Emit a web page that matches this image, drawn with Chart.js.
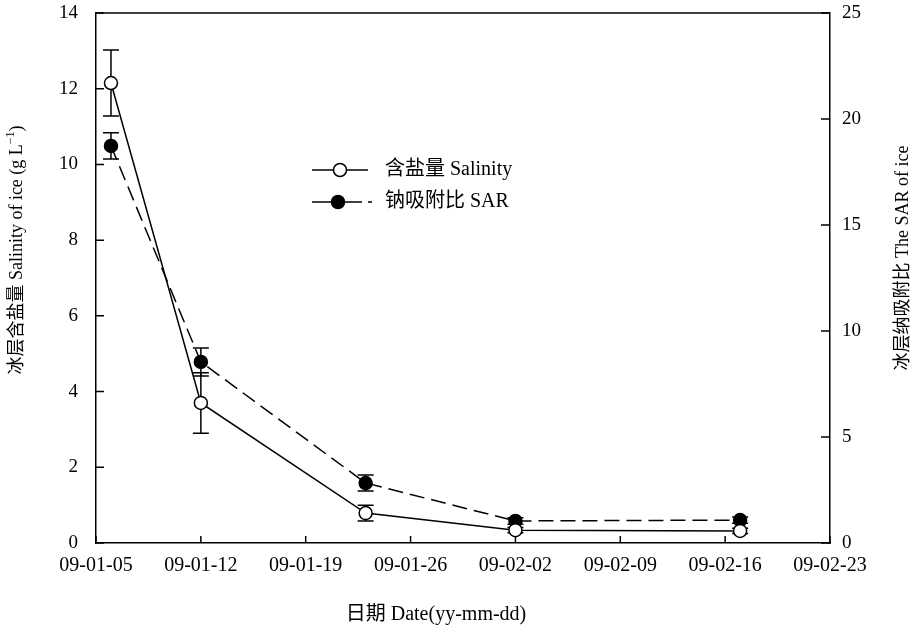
<!DOCTYPE html>
<html>
<head>
<meta charset="utf-8">
<script src="https://cdn.jsdelivr.net/npm/chart.js@4/dist/chart.umd.min.js"></script>
<style>
  html, body { margin: 0; padding: 0; background: #fff; }
  #wrap { width: 919px; height: 635px; }
</style>
</head>
<body>
<div id="wrap"><canvas id="c" width="919" height="635"></canvas></div>
<script>
// Sampling dates and measured values (mean ± SD)
const sampleDates = ['2009-01-06', '2009-01-12', '2009-01-23', '2009-02-02', '2009-02-17'];
const salinity    = [12.15, 3.70, 0.79, 0.34, 0.32];
const salinityErr = [0.87, 0.80, 0.21, 0.07, 0.07];
const sar         = [18.73, 8.54, 2.83, 1.04, 1.08];
const sarErr      = [0.62, 0.66, 0.38, 0.15, 0.15];

// Axis ticks
const dateTicks     = ['09-01-05', '09-01-12', '09-01-19', '09-01-26', '09-02-02', '09-02-09', '09-02-16', '09-02-23'];
const salinityTicks = [0, 2, 4, 6, 8, 10, 12, 14];
const sarTicks      = [0, 5, 10, 15, 20, 25];

const SERIF = "'Liberation Serif', 'Times New Roman', 'Noto Sans CJK SC', serif";
const DAY = 86400000;
const origin = Date.UTC(2009, 0, 5);
function dayOffset(s) {
  const p = s.split('-').map(Number);
  return (Date.UTC(p[0], p[1] - 1, p[2]) - origin) / DAY;
}
function tickDay(label) { return dayOffset('20' + label); }

const salinityPts = sampleDates.map((d, i) => ({ x: dayOffset(d), y: salinity[i] }));
const sarPts      = sampleDates.map((d, i) => ({ x: dayOffset(d), y: sar[i] }));

// Error bars, inward ticks, frame, legend and axis titles
const decor = {
  id: 'decor',
  beforeDatasetsDraw(chart) {
    const ctx = chart.ctx, xs = chart.scales.x;
    const sets = [
      { pts: salinityPts, err: salinityErr, ys: chart.scales.y },
      { pts: sarPts, err: sarErr, ys: chart.scales.y2 }
    ];
    ctx.save();
    ctx.strokeStyle = '#000';
    ctx.lineWidth = 1.5;
    ctx.setLineDash([]);
    sets.forEach(s => {
      s.pts.forEach((p, i) => {
        const px = xs.getPixelForValue(p.x);
        const top = s.ys.getPixelForValue(p.y + s.err[i]);
        const bot = s.ys.getPixelForValue(p.y - s.err[i]);
        ctx.beginPath();
        ctx.moveTo(px, top); ctx.lineTo(px, bot);
        ctx.moveTo(px - 8, top); ctx.lineTo(px + 8, top);
        ctx.moveTo(px - 8, bot); ctx.lineTo(px + 8, bot);
        ctx.stroke();
      });
    });
    ctx.restore();
  },
  afterDraw(chart) {
    const ctx = chart.ctx, a = chart.chartArea;
    const xs = chart.scales.x, yl = chart.scales.y, yr = chart.scales.y2;
    ctx.save();
    ctx.strokeStyle = '#000';
    ctx.lineWidth = 1.5;
    ctx.setLineDash([]);
    // top frame line
    ctx.beginPath();
    ctx.moveTo(a.left, a.top); ctx.lineTo(a.right, a.top);
    ctx.stroke();
    // inward tick marks
    ctx.beginPath();
    xs.ticks.forEach(t => {
      const px = xs.getPixelForValue(t.value);
      ctx.moveTo(px, a.bottom); ctx.lineTo(px, a.bottom - 7);
    });
    yl.ticks.forEach(t => {
      const py = yl.getPixelForValue(t.value);
      ctx.moveTo(a.left, py); ctx.lineTo(a.left + 8, py);
    });
    yr.ticks.forEach(t => {
      const py = yr.getPixelForValue(t.value);
      ctx.moveTo(a.right, py); ctx.lineTo(a.right - 9, py);
    });
    ctx.stroke();

    // legend
    ctx.fillStyle = '#000';
    ctx.font = '20px ' + SERIF;
    ctx.textBaseline = 'middle';
    ctx.textAlign = 'left';
    let ly = 170;
    ctx.beginPath(); ctx.moveTo(312, ly); ctx.lineTo(368, ly); ctx.stroke();
    ctx.beginPath(); ctx.arc(340, ly, 6.5, 0, Math.PI * 2);
    ctx.fillStyle = '#fff'; ctx.fill(); ctx.stroke();
    ctx.fillStyle = '#000';
    ctx.fillText('含盐量 Salinity', 385, ly);
    ly = 202;
    ctx.beginPath(); ctx.moveTo(312, ly); ctx.lineTo(362, ly);
    ctx.moveTo(368, ly); ctx.lineTo(372, ly); ctx.stroke();
    ctx.beginPath(); ctx.arc(338, ly, 6.5, 0, Math.PI * 2);
    ctx.fill(); ctx.stroke();
    ctx.fillText('钠吸附比 SAR', 385, ly);

    // x title
    ctx.font = '20px ' + SERIF;
    ctx.textAlign = 'center';
    ctx.fillText('日期 Date(yy-mm-dd)', 436, 615);

    // left title with superscript
    ctx.save();
    ctx.translate(17, 250);
    ctx.rotate(-Math.PI / 2);
    ctx.textAlign = 'left';
    const main = '冰层含盐量 Salinity of ice (g L', sup = '−1', tail = ')';
    ctx.font = '18px ' + SERIF;
    const w1 = ctx.measureText(main).width, w3 = ctx.measureText(tail).width;
    ctx.font = '12px ' + SERIF;
    const w2 = ctx.measureText(sup).width;
    let x0 = -(w1 + w2 + w3) / 2;
    ctx.font = '18px ' + SERIF;
    ctx.fillText(main, x0, 0);
    ctx.font = '12px ' + SERIF;
    ctx.fillText(sup, x0 + w1, -6);
    ctx.font = '18px ' + SERIF;
    ctx.fillText(tail, x0 + w1 + w2, 0);
    ctx.restore();

    // right title
    ctx.save();
    ctx.translate(903, 258);
    ctx.rotate(-Math.PI / 2);
    ctx.textAlign = 'center';
    ctx.font = '18px ' + SERIF;
    ctx.fillText('冰层纳吸附比 The SAR of ice', 0, 0);
    ctx.restore();
    ctx.restore();
  }
};

// vertical axes: fixed width, no extra room reserved for the end labels
function fixY(width) {
  return function (s) { s.width = width; s.paddingTop = 0; s.paddingBottom = 0; };
}

new Chart(document.getElementById('c'), {
  type: 'line',
  data: {
    datasets: [
      {
        label: '含盐量 Salinity',
        data: salinityPts,
        yAxisID: 'y',
        borderColor: '#000',
        borderWidth: 1.5,
        pointRadius: 6.5,
        pointBorderWidth: 1.5,
        pointBackgroundColor: '#fff',
        pointBorderColor: '#000',
        tension: 0,
        fill: false
      },
      {
        label: '钠吸附比 SAR',
        data: sarPts,
        yAxisID: 'y2',
        borderColor: '#000',
        borderWidth: 1.5,
        borderDash: [15, 7],
        pointRadius: 6.5,
        pointBorderWidth: 1.5,
        pointBackgroundColor: '#000',
        pointBorderColor: '#000',
        tension: 0,
        fill: false
      }
    ]
  },
  options: {
    responsive: false,
    devicePixelRatio: 1,
    animation: false,
    layout: { padding: { top: 13, left: 0, right: 0, bottom: 0 } },
    plugins: { legend: { display: false }, tooltip: { enabled: false } },
    scales: {
      x: {
        type: 'linear',
        position: 'bottom',
        min: 0,
        max: tickDay(dateTicks[dateTicks.length - 1]),
        afterBuildTicks(s) { s.ticks = dateTicks.map(l => ({ value: tickDay(l) })); },
        afterFit(s) { s.height = 92; },
        grid: { drawOnChartArea: false, drawTicks: false },
        border: { color: '#000', width: 1.5 },
        ticks: {
          autoSkip: false, maxRotation: 0, padding: 11, color: '#000',
          font: { family: SERIF, size: 20 },
          callback(v) { const i = dateTicks.findIndex(l => tickDay(l) === v); return i >= 0 ? dateTicks[i] : ''; }
        }
      },
      y: {
        position: 'left',
        min: 0, max: 14,
        afterBuildTicks(s) { s.ticks = salinityTicks.map(v => ({ value: v })); },
        afterFit: fixY(96),
        grid: { drawOnChartArea: false, drawTicks: false },
        border: { color: '#000', width: 1.5 },
        ticks: { padding: 18, color: '#000', font: { family: SERIF, size: 19 } }
      },
      y2: {
        position: 'right',
        min: 0, max: 25,
        afterBuildTicks(s) { s.ticks = sarTicks.map(v => ({ value: v })); },
        afterFit: fixY(89),
        grid: { drawOnChartArea: false, drawTicks: false },
        border: { color: '#000', width: 1.5 },
        ticks: { padding: 12, color: '#000', font: { family: SERIF, size: 19 } }
      }
    }
  },
  plugins: [decor]
});
</script>
</body>
</html>
